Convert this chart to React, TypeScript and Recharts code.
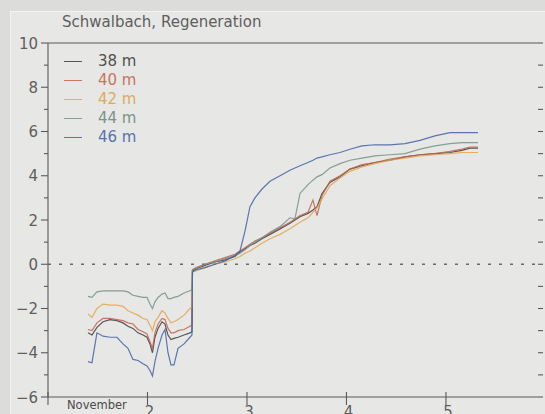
import React from 'react';
import { LineChart, Line, XAxis, YAxis, ReferenceLine } from 'recharts';

// time axis in days of November, values per probe depth
const days = [
  1.402, 1.442, 1.492, 1.553, 1.623, 1.693, 1.754, 1.804, 1.854, 1.905, 1.955, 1.995, 2.025,
  2.05, 2.075, 2.106, 2.146, 2.176, 2.206, 2.236, 2.266, 2.307, 2.367, 2.427, 2.447,
  2.452, 2.487, 2.578, 2.678, 2.779, 2.879, 2.93, 2.98, 3.03, 3.08, 3.151, 3.231, 3.332,
  3.432, 3.482, 3.533, 3.613, 3.663, 3.704, 3.754, 3.834, 3.935, 4.035, 4.156, 4.286,
  4.437, 4.588, 4.739, 4.889, 5.04, 5.161, 5.241, 5.322,
];

const d38 = [
  -3.1, -3.2, -2.85, -2.6, -2.5, -2.55, -2.65, -2.8, -2.9, -3.1, -3.2, -3.3, -3.6, -4.0,
  -3.3, -2.9, -2.6, -2.7, -3.2, -3.4, -3.35, -3.3, -3.2, -3.1, -3.05,
  -0.3, -0.2, -0.05, 0.1, 0.2, 0.35, 0.55, 0.7, 0.85, 0.95, 1.15, 1.35, 1.6, 1.85, 2.0,
  2.15, 2.3, 2.45, 2.6, 3.2, 3.7, 3.95, 4.3, 4.45, 4.6, 4.7, 4.85, 4.95, 5.0, 5.05, 5.15,
  5.25, 5.25,
];

const d40 = [
  -2.95, -3.0, -2.65, -2.45, -2.45, -2.5, -2.55, -2.65, -2.7, -2.95, -3.05, -3.15, -3.5,
  -3.8, -3.1, -2.7, -2.45, -2.5, -2.9, -3.1, -3.1, -3.0, -2.95, -2.8, -2.75,
  -0.25, -0.15, 0.0, 0.15, 0.3, 0.45, 0.6, 0.75, 0.9, 1.05, 1.2, 1.4, 1.65, 1.9, 2.05,
  2.2, 2.35, 2.9, 2.2, 3.1, 3.75, 4.0, 4.3, 4.5, 4.6, 4.75, 4.85, 4.95, 5.0, 5.1, 5.2,
  5.3, 5.3,
];

const d42 = [
  -2.25, -2.4, -2.0, -1.8, -1.85, -1.85, -1.9, -2.1, -2.2, -2.3, -2.45, -2.5, -2.75, -3.0,
  -2.6, -2.4, -2.1, -2.2, -2.45, -2.65, -2.6, -2.5, -2.3, -2.0, -1.95,
  -0.35, -0.3, -0.15, 0.0, 0.1, 0.25, 0.35, 0.5, 0.6, 0.75, 0.95, 1.15, 1.35, 1.6, 1.75,
  1.9, 2.1, 2.35, 2.55, 2.95, 3.55, 3.9, 4.2, 4.4, 4.55, 4.7, 4.8, 4.9, 4.95, 5.0, 5.05,
  5.05, 5.05,
];

const d44 = [
  -1.45, -1.5, -1.25, -1.2, -1.2, -1.2, -1.2, -1.25, -1.4, -1.45, -1.5, -1.5, -1.8, -2.0,
  -1.7, -1.5, -1.35, -1.3, -1.55, -1.55, -1.5, -1.45, -1.3, -1.2, -1.15,
  -0.25, -0.2, 0.0, 0.1, 0.25, 0.4, 0.5, 0.65, 0.85, 1.0, 1.2, 1.45, 1.7, 2.1, 2.05,
  3.2, 3.6, 3.8, 3.95, 4.05, 4.35, 4.55, 4.7, 4.8, 4.9, 4.95, 5.0, 5.2, 5.35, 5.45, 5.5,
  5.5, 5.5,
];

const d46 = [
  -4.4, -4.45, -3.1, -3.25, -3.3, -3.3, -3.6, -3.8, -4.3, -4.35, -4.5, -4.6, -4.8, -5.05,
  -4.4, -3.8, -3.2, -2.95, -4.0, -4.55, -4.55, -3.8, -3.6, -3.3, -3.2,
  -0.35, -0.25, -0.15, 0.0, 0.15, 0.4, 0.6, 1.5, 2.6, 3.0, 3.4, 3.75, 4.0, 4.25, 4.35,
  4.45, 4.6, 4.7, 4.8, 4.85, 4.95, 5.05, 5.2, 5.35, 5.4, 5.4, 5.45, 5.6, 5.8, 5.95, 5.95,
  5.95, 5.95,
];

const yTicks = [-6, -5, -4, -3, -2, -1, 0, 1, 2, 3, 4, 5, 6, 7, 8, 9, 10];
const xTicks = [1, 2, 3, 4, 5];

const series = [
  { key: 'd38', name: '38 m', color: '#3c3c3c', text: '#505050' },
  { key: 'd40', name: '40 m', color: '#c2614c', text: '#c9735f' },
  { key: 'd42', name: '42 m', color: '#e3a450', text: '#dcaa60' },
  { key: 'd44', name: '44 m', color: '#73928a', text: '#7a9488' },
  { key: 'd46', name: '46 m', color: '#4262a4', text: '#5574ae' },
];

const data = days.map((day, i) => ({
  day,
  d38: d38[i],
  d40: d40[i],
  d42: d42[i],
  d44: d44[i],
  d46: d46[i],
}));

const INK = '#5a5a5a';
const TEXT = '#5e5e5e';
const FONT = '"DejaVu Sans", sans-serif';

const LeftTick = (props: any) => {
  const { x, y, payload } = props;
  const major = payload.value % 2 === 0;
  const label = payload.value < 0 ? '\u2212' + Math.abs(payload.value) : String(payload.value);
  return (
    <g>
      <line x1={x - (major ? 7 : 4)} x2={x} y1={y} y2={y} stroke={INK} strokeWidth={1.1} />
      {major && (
        <text x={x - 10} y={y} dy={5.5} textAnchor="end" fill={TEXT} fontSize={15} fontFamily={FONT}>
          {label}
        </text>
      )}
    </g>
  );
};

const BottomTick = (props: any) => {
  const { x, y, payload } = props;
  const first = payload.value === 1;
  return (
    <g>
      <line x1={x} x2={x} y1={y - 5} y2={y + 8} stroke={INK} strokeWidth={1.1} />
      {first ? (
        <text x={x + 19} y={y + 12} textAnchor="start" fill="#4a4a4a" fontSize={11.5} fontFamily={FONT}>
          November
        </text>
      ) : (
        <text x={x + 2} y={y + 20} textAnchor="middle" fill={TEXT} fontSize={15} fontFamily={FONT}>
          {payload.value}
        </text>
      )}
    </g>
  );
};

const LegendBox = () => (
  <div style={{ position: 'absolute', left: 64, top: 52, fontFamily: FONT, fontSize: 15 }}>
    {series.map((s) => (
      <div key={s.key} style={{ display: 'flex', alignItems: 'center', height: 19 }}>
        <span style={{ display: 'inline-block', width: 18, height: 1.2, background: s.color, opacity: 0.85 }} />
        <span style={{ marginLeft: 16, color: s.text, lineHeight: '19px' }}>{s.name}</span>
      </div>
    ))}
  </div>
);

export default function App() {
  return (
    <div
      style={{
        position: 'absolute',
        left: 0,
        top: 0,
        width: 545,
        height: 414,
        background: '#dcdcda',
        overflow: 'hidden',
      }}
    >
      <div
        style={{
          position: 'absolute',
          left: 10,
          top: 11,
          right: 0,
          bottom: 0,
          background: '#e7e7e5',
          borderLeft: '1px solid #f3f3f1',
          borderTop: '1px solid #f3f3f1',
        }}
      />
      <div
        style={{
          position: 'absolute',
          left: 62,
          top: 13,
          fontFamily: FONT,
          fontSize: 15,
          color: TEXT,
          lineHeight: '18px',
        }}
      >
        Schwalbach, Regeneration
      </div>
      <LineChart
        width={545}
        height={414}
        data={data}
        margin={{ top: 43, right: 0, bottom: 0, left: 0 }}
        style={{ position: 'absolute', left: 0, top: 0 }}
      >
        <XAxis
          dataKey="day"
          type="number"
          domain={[1, 5.925]}
          ticks={xTicks}
          allowDataOverflow
          height={17}
          tickSize={0}
          tickMargin={0}
          tickLine={false}
          axisLine={{ stroke: INK, strokeWidth: 1.1 }}
          tick={BottomTick}
        />
        <YAxis
          yAxisId="l"
          type="number"
          domain={[-6, 10]}
          ticks={yTicks}
          allowDataOverflow
          width={48}
          tickSize={0}
          tickMargin={0}
          tickLine={false}
          axisLine={{ stroke: INK, strokeWidth: 1.1 }}
          tick={LeftTick}
          interval={0}
        />
        <YAxis
          yAxisId="r"
          orientation="right"
          type="number"
          domain={[-6, 10]}
          ticks={yTicks}
          allowDataOverflow
          width={7}
          tickSize={5}
          tickLine={{ stroke: INK, strokeWidth: 1.1 }}
          axisLine={false}
          tick={() => <g />}
          interval={0}
        />
        <ReferenceLine yAxisId="l" y={10} stroke={INK} strokeWidth={1.1} />
        <ReferenceLine yAxisId="l" y={0} stroke="#6a6a6a" strokeWidth={1.4} strokeDasharray="3 8" />
        {series.map((s) => (
          <Line
            key={s.key}
            yAxisId="l"
            dataKey={s.key}
            name={s.name}
            type="linear"
            stroke={s.color}
            strokeWidth={1.2}
            strokeOpacity={0.85}
            dot={false}
            isAnimationActive={false}
          />
        ))}
      </LineChart>
      <LegendBox />
    </div>
  );
}
